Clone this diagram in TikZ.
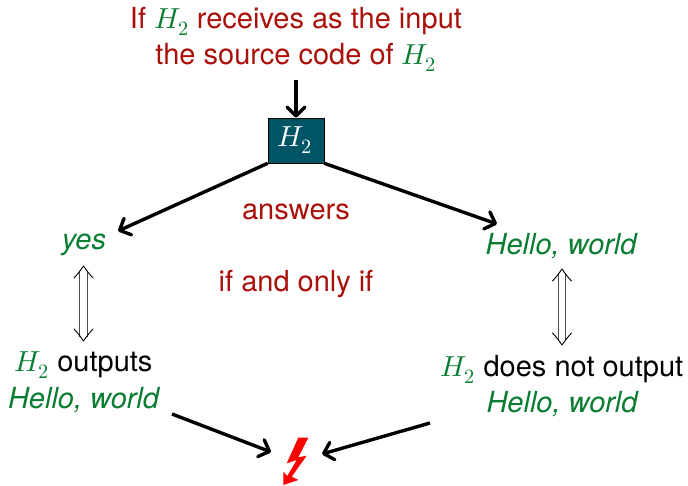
\documentclass[tikz,border=0pt]{standalone}
\usepackage{fontspec}
\setmainfont{TeX Gyre Heros}
\usepackage{unicode-math}
\usetikzlibrary{arrows.meta}
\definecolor{tred}{RGB}{170,15,10}
\definecolor{tgreen}{RGB}{10,125,50}
\definecolor{tteal}{RGB}{0,85,100}
\tikzset{
 lab/.style={font=\fontsize{29}{36.5}\selectfont,align=center,inner sep=0pt},
 conn/.style={line width=3.4pt,-{Straight Barb[length=9pt,width=18pt,line width=3.4pt,round]}},
 iffhead/.style={line width=.9pt,black,line cap=round,line join=round},
 iffrail/.style={line width=1.1pt,black!70}
}
\begin{document}
\begin{tikzpicture}[x=1pt,y=-1pt]
\useasboundingbox (0,0) rectangle (688,485);
\node[lab,text=tred] (top) at (296,39.5) {If \textcolor{tgreen}{$H_2$} receives as the input\\the source code of \textcolor{tgreen}{$H_2$}};
\node[fill=tteal,draw=black,line width=.6pt,minimum width=56pt,minimum height=45pt,inner sep=0pt,text=white,font=\fontsize{29}{34}\selectfont] (h) at (296,140.5) {\kern-2pt$H_2$};
\node[lab,text=tred] (ans) at (296,212) {answers};
\node[lab,text=tred] (iffl) at (296,284) {if and only if};
\node[lab,text=tgreen] (yes) at (84,245) {\itshape yes};
\node[lab,text=tgreen] (hw) at (561,246) {\itshape Hello, world};
\node[lab] (l) at (83.5,382) {\textcolor{tgreen}{$H_2$} outputs\\\textcolor{tgreen}{\itshape Hello, world}};
\node[lab] (r) at (562,386) {\textcolor{tgreen}{$H_2$} does not output\\\textcolor{tgreen}{\itshape Hello, world}};
\node[inner sep=0pt,minimum size=2pt] (bolt) at (296,461) {};
\coordinate (la) at (172,414);
\coordinate (ra) at (430,423);
\coordinate (ta) at (296,80);
\coordinate (yt) at (83.5,266);
\coordinate (yb) at (83.5,341);
\coordinate (ht) at (562,269);
\coordinate (hb) at (562,345);
\draw[conn] (ta) -- (h.north);
\draw[conn] (h.south west) -- (118,231);
\draw[conn] (h.south east) -- (497,224);
\foreach \a/\b in {yt/yb,ht/hb}{
 \draw[iffrail] ([shift={(-3.6,4.5)}]\a) -- ([shift={(-3.6,-4.5)}]\b) ([shift={(3.6,4.5)}]\a) -- ([shift={(3.6,-4.5)}]\b);
 \draw[iffhead] ([shift={(-9.5,12)}]\a) .. controls ([shift={(-5,7)}]\a) .. (\a) .. controls ([shift={(5,7)}]\a) .. ([shift={(9.5,12)}]\a);
 \draw[iffhead] ([shift={(-9.5,-12)}]\b) .. controls ([shift={(-5,-7)}]\b) .. (\b) .. controls ([shift={(5,-7)}]\b) .. ([shift={(9.5,-12)}]\b);
}
\draw[conn] (la) -- (271,452);
\draw[conn] (ra) -- (322,454);
\fill[red] (298.3,437.7) -- (308.3,437.7) -- (298.3,457.3) -- (306.7,455.7) -- (291.7,476.7) -- (298.3,480) -- (283.3,485) -- (283.3,471.7) -- (287.3,476) -- (296.7,460) -- (286.7,463.3) -- cycle;
\end{tikzpicture}
\end{document}
